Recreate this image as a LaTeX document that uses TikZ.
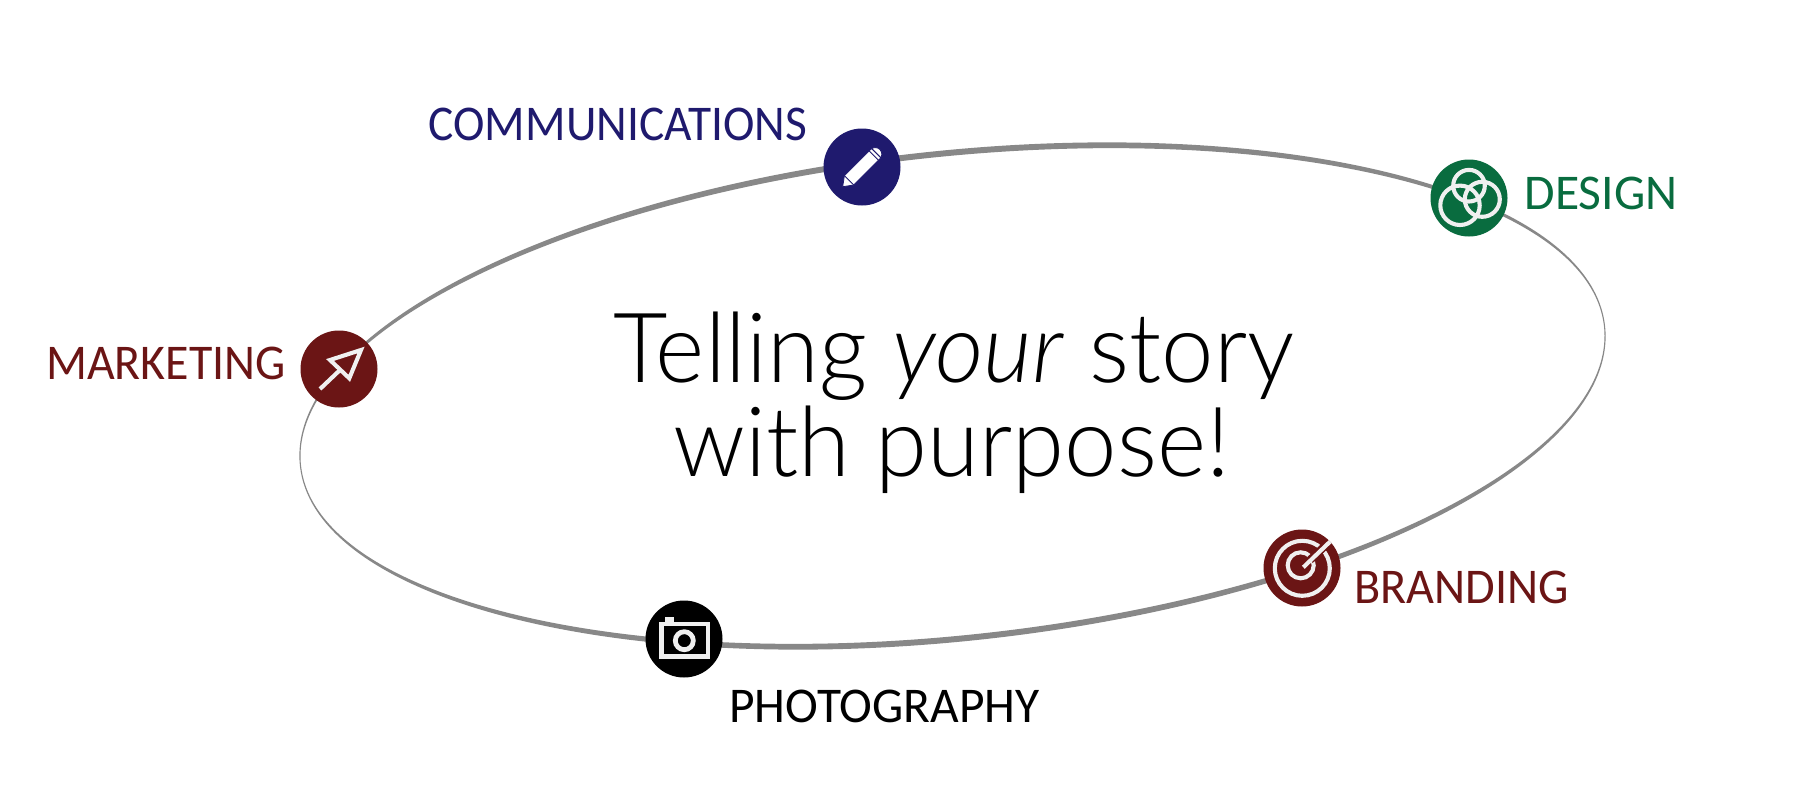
\documentclass[tikz,border=0pt]{standalone}
\usepackage{fontspec}
\setmainfont{Lato Light}[ItalicFont={Lato Light Italic},FakeStretch=0.97]
\newfontfamily\labfont{Carlito}
\definecolor{navy}{HTML}{1F1A6E}
\definecolor{leaf}{HTML}{096C3F}
\definecolor{maroon}{HTML}{6B1515}
\definecolor{ring}{HTML}{888888}
\definecolor{iconwhite}{HTML}{F0F0F0}
\tikzset{
  badge/.style={circle,minimum size=77pt,inner sep=0pt,draw=none},
  lab/.style={anchor=base west,inner sep=0pt,font=\labfont\fontsize{50}{50}\selectfont},
  title/.style={anchor=base,inner sep=0pt,font=\fontsize{97}{97}\selectfont},
  glyph/.style={draw=iconwhite,line width=4.1pt,fill=none},
}
\begin{document}
\begin{tikzpicture}[x=1pt,y=-1pt]
\useasboundingbox (0,0) rectangle (1800,800);
\fill[white] (0,0) rectangle (1800,800);
% calligraphic ellipse
\fill[ring,even odd rule,shift={(952.5,396)},rotate=6.09]
  (0,0) ellipse [x radius=656.3,y radius=245.2]
  (0,0) ellipse [x radius=655.2,y radius=239.2];
% badges
\node[badge,fill=navy] (comm) at (862,167) {};
\node[badge,fill=leaf] (design) at (1469,198) {};
\node[badge,fill=maroon] (mkt) at (339,369) {};
\node[badge,fill=maroon] (brand) at (1302,568) {};
\node[badge,fill=black] (photo) at (684,639) {};
% pencil
\begin{scope}[shift={(842.7,186.7)},rotate=45]
  \fill[white,draw=navy,line width=.8pt]
    (0,0) -- (9,6.6) -- (46,6.6) arc[start angle=90,end angle=-90,radius=6.6] -- (9,-6.6) -- cycle;
  \draw[navy,line width=1pt] (9,6.6) -- (9,-6.6) (44,6.6) -- (44,-6.6) (47.5,6.6) -- (47.5,-6.6);
\end{scope}
% three rings
\draw[glyph] (1469,185.7) circle[radius=15.8];
\draw[glyph] (1482.3,199.3) circle[radius=17.5];
\draw[glyph] (1460,205.3) circle[radius=19.7];
% arrow
\draw[glyph,line join=miter] (361,350) -- (330,360) -- (349.3,378.3) -- cycle;
\draw[glyph] (320,389) -- (340,370);
% target
\draw[glyph] (1302.3,568.3) circle[radius=27.5];
\draw[glyph] (1300.7,565.3) circle[radius=13];
\draw[maroon,line width=8pt] (1310,560) -- (1326,545);
\draw[glyph] (1303.3,567.3) -- (1330,541.7);
% camera
\draw[iconwhite,line width=4.4pt] (661.3,623.7) rectangle (708,656.3);
\fill[iconwhite] (665,617.3) rectangle (674.3,622);
\draw[iconwhite,line width=4.8pt] (684.3,640.7) circle[radius=9];
% labels
\node[lab,text=navy] (lcomm) at (428.5,140) {\scalebox{0.948}[1]{COMMUNICATIONS}};
\node[lab,text=leaf] (ldesign) at (1524.5,209) {\scalebox{0.992}[1]{DESIGN}};
\node[lab,text=maroon] (lmkt) at (46,379) {\scalebox{0.958}[1]{MARKETING}};
\node[lab,text=maroon] (lbrand) at (1354,603) {\scalebox{0.963}[1]{BRANDING}};
\node[lab,text=black] (lphoto) at (729,722.7) {\scalebox{0.989}[1]{PHOTOGRAPHY}};
% title
\node[title] (t1) at (954,382) {Telling \textit{your} story};
\node[title] (t2) at (951.5,476) {with purpose!};
\end{tikzpicture}
\end{document}
